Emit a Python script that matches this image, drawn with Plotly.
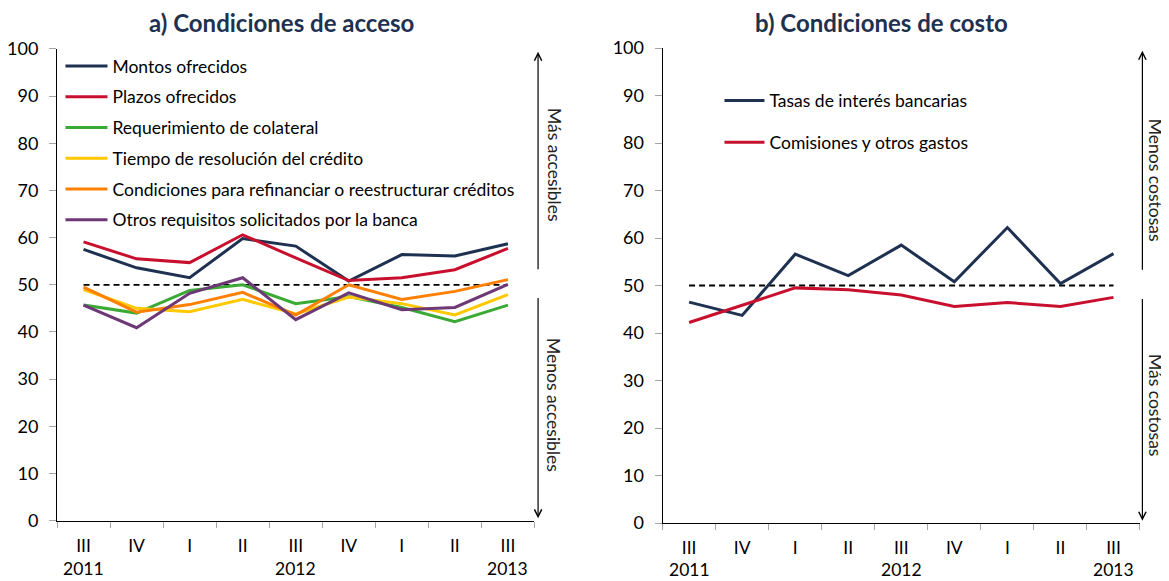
import plotly.graph_objects as go
from plotly.subplots import make_subplots

# Quarters (x axis) and year labels under them
quarters = ["III", "IV", "I", "II", "III", "IV", "I", "II", "III"]
years = ["2011", "", "", "", "2012", "", "", "", "2013"]

# a) Condiciones de acceso
montos = [57.5, 53.6, 51.5, 59.8, 58.2, 50.8, 56.4, 56.1, 58.7]
plazos = [59.1, 55.5, 54.7, 60.6, 55.7, 50.9, 51.5, 53.2, 57.7]
colateral = [45.7, 44.0, 48.8, 50.0, 46.0, 47.5, 45.2, 42.2, 45.7]
tiempo = [49.0, 45.0, 44.3, 46.9, 43.8, 47.4, 46.0, 43.6, 47.9]
refinanciar = [49.5, 44.2, 45.8, 48.4, 43.6, 50.0, 46.9, 48.6, 51.1]
otros = [45.7, 40.9, 48.2, 51.5, 42.6, 48.3, 44.7, 45.2, 50.1]

# b) Condiciones de costo
tasas = [46.5, 43.7, 56.6, 52.1, 58.5, 50.8, 62.2, 50.4, 56.7]
comisiones = [42.2, 45.8, 49.5, 49.1, 48.0, 45.6, 46.4, 45.6, 47.5]

neutral = [50] * len(quarters)
yticks = list(range(0, 101, 10))

FONT = "Lato"
NAVY = "#1F3150"
RED = "#C8102E"

x = list(range(len(quarters)))

fig = make_subplots(rows=1, cols=2, horizontal_spacing=0.1183)

acceso = [
    ("Montos ofrecidos", montos, NAVY),
    ("Plazos ofrecidos", plazos, RED),
    ("Requerimiento de colateral", colateral, "#3AAA35"),
    ("Tiempo de resolución del crédito", tiempo, "#FFC800"),
    ("Condiciones para refinanciar o reestructurar créditos", refinanciar, "#FF8000"),
    ("Otros requisitos solicitados por la banca", otros, "#6E3776"),
]
costo = [
    ("Tasas de interés bancarias", tasas, NAVY),
    ("Comisiones y otros gastos", comisiones, RED),
]

# dashed reference line at 50 (drawn under the series)
for col in (1, 2):
    fig.add_trace(go.Scatter(x=x, y=neutral, mode="lines", showlegend=False,
                             hoverinfo="skip",
                             line=dict(color="black", width=1.8, dash="6px,4px")),
                  row=1, col=col)

for i, (name, vals, color) in enumerate(acceso):
    fig.add_trace(go.Scatter(x=x, y=vals, name=name, mode="lines",
                             legendgroup="a%d" % i, legend="legend",
                             line=dict(color=color, width=3)), row=1, col=1)
for i, (name, vals, color) in enumerate(costo):
    fig.add_trace(go.Scatter(x=x, y=vals, name=name, mode="lines",
                             legendgroup="b%d" % i, legend="legend2",
                             line=dict(color=color, width=3)), row=1, col=2)

xaxis_style = dict(
    range=[-0.5, len(quarters) - 0.5], tickvals=x, ticktext=quarters,
    ticks="", showline=True, linecolor="black", linewidth=1,
    showgrid=False, zeroline=False, ticklabelstandoff=9, automargin=False,
    tickfont=dict(family=FONT, size=17.5, color="black"),
    minor=dict(tickvals=[v - 0.5 for v in x] + [len(quarters) - 0.5],
               ticks="outside", ticklen=6, tickcolor="#A6A6A6"),
)
yaxis_style = dict(
    range=[0, 100], tickvals=yticks, ticks="outside", ticklen=7,
    tickcolor="#A6A6A6", showline=True, linecolor="black", linewidth=1,
    showgrid=False, zeroline=False, ticklabelstandoff=7, automargin=False,
    tickfont=dict(family=FONT, size=18, color="black"),
)
fig.update_xaxes(**xaxis_style)
fig.update_yaxes(**yaxis_style)
fig.update_yaxes(domain=[0.005, 0.998], row=1, col=1)

annotations = []
# titles
for xp, txt in ((0.207, "a) Condiciones de acceso"), (0.761, "b) Condiciones de costo")):
    annotations.append(dict(text="<b>%s</b>" % txt, x=xp, y=1.053, xref="paper", yref="paper",
                            showarrow=False, xanchor="center", yanchor="middle",
                            font=dict(family=FONT, size=24, color=NAVY)))
# years under the quarters
for xa, ya, shift in (("x", "y domain", -48), ("x2", "y2 domain", -46)):
    for i, yr in enumerate(years):
        if yr:
            annotations.append(dict(text=yr, x=i, y=0, xref=xa, yref=ya, yshift=shift,
                                    showarrow=False, yanchor="middle",
                                    font=dict(family=FONT, size=17.5, color="black")))

# direction arrows and their labels
arrows = [
    ("x domain", "y", 1.0076, 1.041, "Más accesibles", 75.4, "Menos accesibles", 24.5),
    ("x2 domain", "y2", 1.005, 1.034, "Menos costosas", 72.2, "Más costosas", 24.8),
]
for xr, yr, xa, xt, up_txt, up_y, down_txt, down_y in arrows:
    annotations.append(dict(text="", xref=xr, yref=yr, axref=xr, ayref=yr,
                            x=xa, ax=xa, y=99.4, ay=53, showarrow=True,
                            arrowhead=5, arrowsize=1.2, arrowwidth=1.2, arrowcolor="black"))
    annotations.append(dict(text="", xref=xr, yref=yr, axref=xr, ayref=yr,
                            x=xa, ax=xa, y=0.5, ay=47.5, showarrow=True,
                            arrowhead=5, arrowsize=1.2, arrowwidth=1.2, arrowcolor="black"))
    for txt, yy in ((up_txt, up_y), (down_txt, down_y)):
        annotations.append(dict(text=txt, xref=xr, yref=yr, x=xt, y=yy, textangle=90,
                                showarrow=False, xanchor="center", yanchor="middle",
                                font=dict(family=FONT, size=17.5, color="#222222")))

# page body adds 8px around the plot, so the figure is 8px smaller than the window
fig.update_layout(
    width=1161, height=573,
    margin=dict(l=49, r=29, t=40, b=58),
    paper_bgcolor="white", plot_bgcolor="white",
    font=dict(family=FONT, size=17.5, color="black"),
    annotations=annotations,
    legend=dict(x=0.0032, y=1.0, xanchor="left", yanchor="top",
                bgcolor="rgba(0,0,0,0)", itemwidth=42, tracegroupgap=5,
                traceorder="grouped", font=dict(family=FONT, size=17.5, color="black")),
    legend2=dict(x=0.6117, y=0.927, xanchor="left", yanchor="top",
                 bgcolor="rgba(0,0,0,0)", itemwidth=40, tracegroupgap=16,
                 traceorder="grouped", font=dict(family=FONT, size=17.5, color="black")),
)

fig.write_html("out.html")
